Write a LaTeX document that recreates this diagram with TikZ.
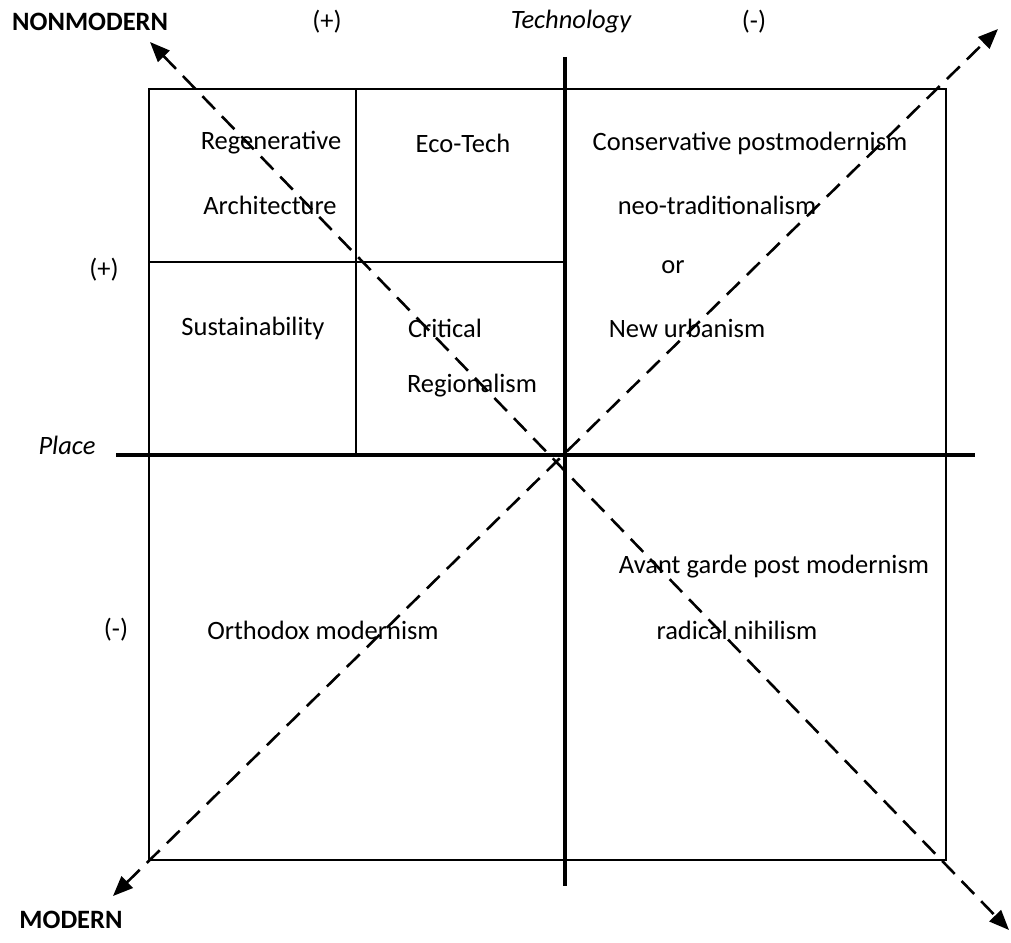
\documentclass[tikz,border=0pt]{standalone}
\usepackage{fontspec}
\setmainfont{Carlito}
\usetikzlibrary{arrows.meta}
\begin{document}
\begin{tikzpicture}[x=1pt,y=-1pt,
  lbl/.style={inner sep=0pt,font=\fontsize{26.5}{30}\selectfont},
  boxline/.style={line width=1.5pt},
  axis/.style={line width=3.2pt},
  diag/.style={line width=2.6pt,dash pattern=on 18pt off 10pt,{Triangle[length=20pt,width=16pt]}-{Triangle[length=20pt,width=16pt]}}]
\useasboundingbox (0,0) rectangle (1011,942);
% corners
\coordinate (tl) at (149,89);
\coordinate (tr) at (946,89);
\coordinate (bl) at (149,860);
\coordinate (br) at (946,860);
\coordinate (im) at (356,89);
\coordinate (ib) at (356,455);
\coordinate (hl) at (149,262);
\coordinate (hr) at (565,262);
\coordinate (vt) at (565,57);
\coordinate (vb) at (565,886);
\coordinate (hL) at (116,455);
\coordinate (hR) at (975,455);
\coordinate (nw) at (150,42);
\coordinate (se) at (1009,930);
\coordinate (sw) at (113,896);
\coordinate (ne) at (998,29);
\draw[boxline] (tl) rectangle (br);
\draw[boxline] (im) -- (ib);
\draw[boxline] (hl) -- (hr);
\draw[axis] (vt) -- (vb);
\draw[axis] (hL) -- (hR);
\draw[diag] (nw) -- (se);
\draw[diag] (sw) -- (ne);
% labels
\node[lbl,anchor=west,font=\fontsize{26.5}{30}\selectfont\bfseries] (nonmod) at (12,22) {NONMODERN};
\node[lbl] (tplus) at (327,22) {(+)};
\node[lbl,font=\fontsize{26.5}{30}\selectfont\itshape] (tech) at (571,22) {Technology};
\node[lbl] (tminus) at (754,22) {(-)};
\node[lbl] (regen) at (271,143) {Regenerative};
\node[lbl] (arch) at (270,205) {Architecture};
\node[lbl] (eco) at (463,143) {Eco-Tech};
\node[lbl] (cons) at (750,143) {Conservative postmodernism};
\node[lbl] (neo) at (717,205) {neo-traditionalism};
\node[lbl] (pplus) at (104,270) {(+)};
\node[lbl] (or) at (673,267) {or};
\node[lbl] (sust) at (253,328) {Sustainability};
\node[lbl] (crit) at (445,328) {Critical};
\node[lbl] (newu) at (687,328) {New urbanism};
\node[lbl] (regio) at (472,386) {Regionalism};
\node[lbl,font=\fontsize{26.5}{30}\selectfont\itshape] (place) at (67,445) {Place};
\node[lbl] (avant) at (774,567) {Avant garde post modernism};
\node[lbl] (pminus) at (116,630) {(-)};
\node[lbl] (ortho) at (323,630) {Orthodox modernism};
\node[lbl] (radical) at (737,630) {radical nihilism};
\node[lbl,font=\fontsize{26.5}{30}\selectfont\bfseries] (modern) at (71,920) {MODERN};
\end{tikzpicture}
\end{document}
